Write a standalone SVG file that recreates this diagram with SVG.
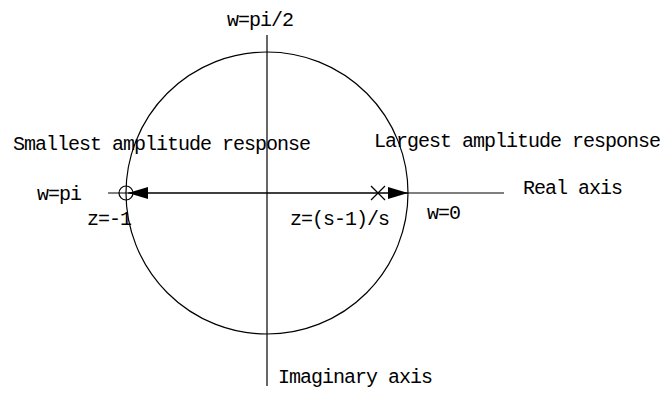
<svg xmlns="http://www.w3.org/2000/svg" width="662" height="394" viewBox="0 0 662 394">
<style>
text{font-family:"Liberation Mono","DejaVu Sans Mono",monospace;font-size:20px;letter-spacing:-1px;fill:#000}
.ln{stroke:#000;stroke-width:1.2;fill:none}
</style>
<defs>
<marker id="ah" markerWidth="20" markerHeight="12" refX="20" refY="6" orient="auto" markerUnits="userSpaceOnUse"><path d="M0,0 L20,6 L0,12 Z" fill="#000"/></marker>
</defs>
<rect width="662" height="394" fill="#fff"/>
<g id="unit-circle"><circle class="ln" cx="267" cy="193" r="141"/></g>
<g id="imaginary-axis"><line class="ln" x1="267" y1="35" x2="267" y2="386"/><text x="278" y="383">Imaginary axis</text></g>
<g id="real-axis"><line class="ln" x1="108" y1="193" x2="504" y2="193"/><text x="523" y="194">Real axis</text></g>
<g id="zero-point"><circle class="ln" cx="126" cy="193" r="7"/><text x="87" y="225">z=-1</text><text x="37" y="200">w=pi</text></g>
<g id="pole"><line class="ln" x1="371" y1="186" x2="385" y2="200"/><line class="ln" x1="371" y1="200" x2="385" y2="186"/><text x="290" y="225">z=(s-1)/s</text></g>
<g id="labels">
<text x="227" y="26">w=pi/2</text>
<text x="13" y="150">Smallest amplitude response</text>
<text x="374" y="147">Largest amplitude response</text>
<text x="427" y="219">w=0</text>
</g>
<g id="connectors">
<line class="ln" x1="267" y1="193" x2="128" y2="193" marker-end="url(#ah)"/>
<line class="ln" x1="267" y1="193" x2="408" y2="193" marker-end="url(#ah)"/>
</g>
</svg>
